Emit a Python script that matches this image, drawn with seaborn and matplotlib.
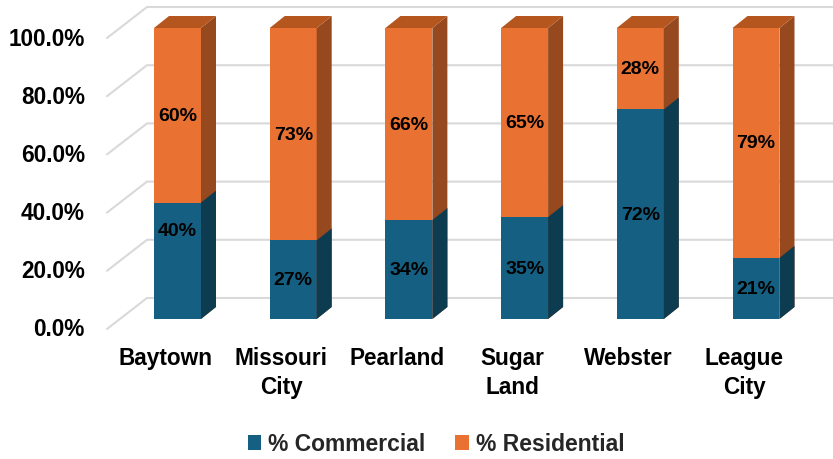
import matplotlib
matplotlib.use("Agg")
import matplotlib.pyplot as plt
import matplotlib.transforms as mtransforms
from matplotlib.patches import Polygon, Patch
from matplotlib.lines import Line2D
import numpy as np
import pandas as pd
import seaborn as sns

# ---- data -------------------------------------------------------------
cities = ["Baytown", "Missouri\nCity", "Pearland", "Sugar\nLand", "Webster", "League\nCity"]
commercial = [40, 27, 34, 35, 72, 21]
residential = [60, 73, 66, 65, 28, 79]
y_ticks = [0, 20, 40, 60, 80, 100]
series_names = ["% Commercial", "% Residential"]

# label placement tweak (value-axis position) for one commercial label
commercial_label_at = {"Baytown": 30.5}

# ---- style ------------------------------------------------------------
BLUE = "#156082"
ORANGE = "#E97132"
BLUE_SIDE = "#0D3C51"
ORANGE_SIDE = "#96481F"
ORANGE_TOP = "#B5561F"
GRID = "#D9D9D9"

sns.set_theme(style="white")
plt.rcParams["font.family"] = ["Liberation Sans", "DejaVu Sans"]
plt.rcParams["font.weight"] = "bold"

W, H, DPI = 833, 460, 100
fig = plt.figure(figsize=(W / DPI, H / DPI), dpi=DPI)

# axes = the plane of the bar front faces
AX_LEFT, AX_BOTTOM, AX_H = 120, 140, 291
SLOT = 115.7          # pixels per category
FIRST_CENTER = 177.5  # pixel x of first category
ax = fig.add_axes([AX_LEFT / W, AX_BOTTOM / H, (W - AX_LEFT) / W, AX_H / H])

df = pd.DataFrame({"city": cities, "commercial": commercial, "residential": residential})
df["total"] = df["commercial"] + df["residential"]

bar_kw = dict(saturation=1, width=0.406, linewidth=0, zorder=3, ax=ax)
sns.barplot(data=df, x="city", y="total", color=ORANGE, **bar_kw)
sns.barplot(data=df, x="city", y="commercial", color=BLUE, **bar_kw)

x0 = -(FIRST_CENTER - AX_LEFT) / SLOT
x1 = x0 + (W - AX_LEFT) / SLOT
ax.set_xlim(x0, x1)
ax.set_ylim(0, 100)
ax.set_xticks([])
ax.set_yticks([])
ax.set_xlabel("")
ax.set_ylabel("")
for s in ax.spines.values():
    s.set_visible(False)
ax.patch.set_alpha(0)

# perspective offsets in pixels
DEPTH = (15, 12)        # bar depth
FLOOR_FRONT = (-13, -10)
BACK_WALL = (27, 21)
ident = mtransforms.IdentityTransform()


def shifted(dx, dy):
    return ax.transData + mtransforms.ScaledTranslation(dx / DPI, dy / DPI, fig.dpi_scale_trans)


def px(pt, off=(0, 0)):
    p = ax.transData.transform(pt)
    return (p[0] + off[0], p[1] + off[1])


# gridlines: diagonal on the side wall and horizontal on the back wall
for v in y_ticks:
    a = px((x0, v), FLOOR_FRONT)
    b = px((x0, v), BACK_WALL)
    c = px((x1, v), BACK_WALL)
    ax.add_line(Line2D([a[0], b[0], c[0] + 40], [a[1], b[1], c[1]], color=GRID,
                       lw=1.5, transform=ident, clip_on=False, zorder=1))

# side and top faces of the bars
orange_bars = ax.containers[0]
blue_bars = ax.containers[1]
for bars, side_col, top_col in [(orange_bars, ORANGE_SIDE, ORANGE_TOP),
                                (blue_bars, BLUE_SIDE, None)]:
    for bar in bars:
        x, w = bar.get_x(), bar.get_width()
        yb, yt = bar.get_y(), bar.get_y() + bar.get_height()
        side = [px((x + w, yb)), px((x + w, yt)), px((x + w, yt), DEPTH), px((x + w, yb), DEPTH)]
        ax.add_patch(Polygon(side, closed=True, facecolor=side_col, edgecolor="none",
                             transform=ident, clip_on=False, zorder=3))
        if top_col:
            top = [px((x, yt)), px((x + w, yt)), px((x + w, yt), DEPTH), px((x, yt), DEPTH)]
            ax.add_patch(Polygon(top, closed=True, facecolor=top_col, edgecolor="none",
                                 transform=ident, clip_on=False, zorder=3))

# value labels
for i, (city, c, r) in enumerate(zip(cities, commercial, residential)):
    yc = commercial_label_at.get(city, c / 2)
    ax.text(i, yc, f"{c}%", ha="center", va="center", fontsize=14,
            fontweight="bold", color="black", zorder=5)
    ax.text(i, c + r / 2, f"{r}%", ha="center", va="center", fontsize=14,
            fontweight="bold", color="black", zorder=5)

# value axis labels along the front edge
for v in y_ticks:
    ax.text(x0, v, f"{v:.1f}%", ha="right", va="center", fontsize=16.3,
            fontweight="bold", color="black", transform=shifted(-35, -10), clip_on=False)

# category labels under the floor front edge
for i, city in enumerate(cities):
    for k, line in enumerate(city.split("\n")):
        ax.text(i, 0, line, ha="center", va="top", fontsize=16.3, fontweight="bold",
                color="black", transform=shifted(-12, -27 - 29 * k), clip_on=False)

handles = [Patch(facecolor=BLUE, edgecolor="none"), Patch(facecolor=ORANGE, edgecolor="none")]
fig.legend(handles, series_names, loc="center", bbox_to_anchor=(436 / W, 15 / H), ncol=2,
           frameon=False, fontsize=16.5, handlelength=0.6, handleheight=0.6,
           handletextpad=0.3, columnspacing=1.3, prop={"weight": "bold", "size": 16.5})

fig.savefig("out.png", dpi=DPI)
